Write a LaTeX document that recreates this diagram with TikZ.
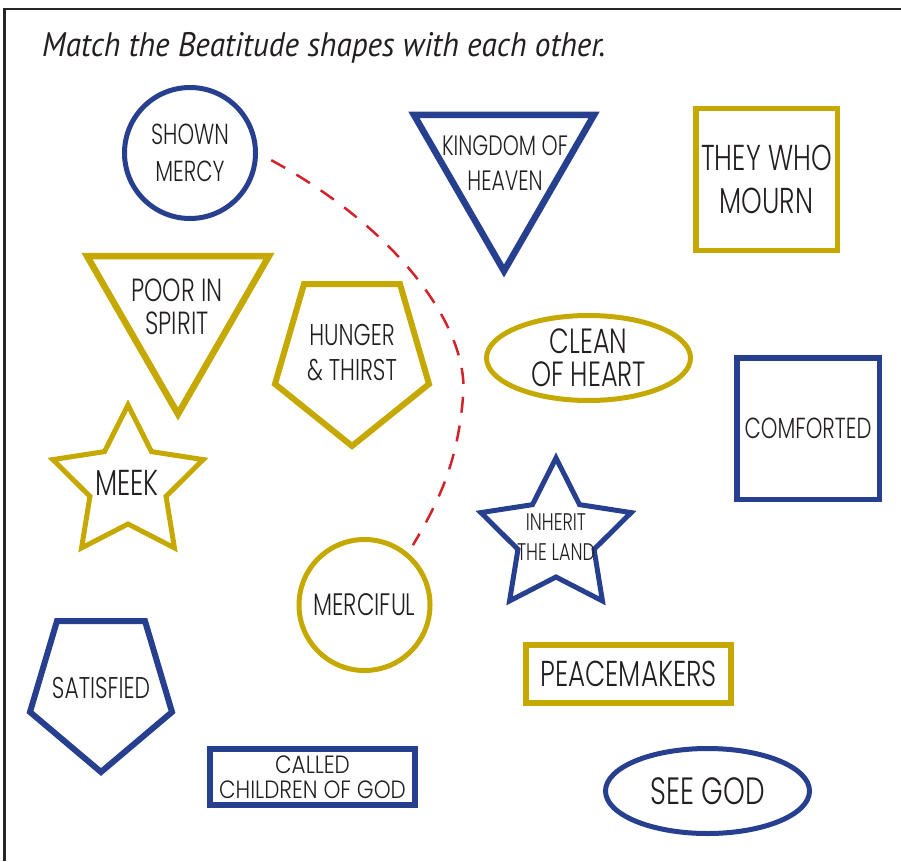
\documentclass[tikz,border=0pt]{standalone}
\usepackage{fontspec}
\usetikzlibrary{shapes.geometric}
\newfontfamily\labelfont{Poppins}[UprightFont=* Light, FakeStretch=0.73]
\newfontfamily\titlefont{PT Sans}[FakeStretch=0.92]
\definecolor{beatblue}{HTML}{273F8F}
\definecolor{beatgold}{HTML}{C5A900}
\definecolor{dashred}{HTML}{D2232A}
\definecolor{inkgray}{HTML}{231F20}
\tikzset{
  blueline/.style={draw=beatblue, line width=#1},
  blueline/.default=5.5pt,
  goldline/.style={draw=beatgold, line width=#1},
  goldline/.default=5.5pt,
  tag/.style 2 args={text=inkgray, inner sep=0pt, align=center,
    font=\labelfont\fontsize{#1}{#2}\selectfont},
  matchline/.style={draw=dashred, line width=2.5pt, dash pattern=on 16pt off 13pt,
    shorten <=15pt, shorten >=9pt}
}
\begin{document}
\begin{tikzpicture}[x=1pt, y=-1pt]
    \useasboundingbox (0,0) rectangle (901,861);
    % frame
    \draw[black!85, line width=2.7pt] (901,9) -- (4.5,9) -- (4.5,861);
    \node[anchor=base west, inner sep=0pt, text=inkgray,
        font=\titlefont\itshape\fontsize{34}{40}\selectfont] (title) at (42,57)
        {Match the Beatitude shapes with each other.};
    % circles, boxes and ellipses
    \node[blueline=5pt, circle, minimum size=131pt, tag={29}{37}] (mercy) at (190,153) {SHOWN\\MERCY};
    \node[goldline=5pt, circle, minimum size=131pt, tag={31}{36}] (merciful) at (364.5,605) {MERCIFUL};
    \node[goldline, rectangle, minimum width=141.5pt, minimum height=141.5pt, tag={36}{43}] (mourn) at (766.5,179.5) {THEY WHO\\MOURN};
    \node[blueline, rectangle, minimum width=142.5pt, minimum height=141.5pt, tag={29}{36}] (comforted) at (808,428.5) {COMFORTED};
    \node[goldline=6pt, rectangle, minimum width=205pt, minimum height=58pt, tag={36}{40}] (peacemakers) at (628.5,674) {PEACEMAKERS};
    \node[blueline=6pt, rectangle, minimum width=205pt, minimum height=56pt, tag={25}{25},
        font=\labelfont\addfontfeature{FakeStretch=0.86}\fontsize{25}{25}\selectfont] (children) at (312.5,777) {CALLED\\CHILDREN OF GOD};
    \node[goldline=5pt, ellipse, minimum width=204pt, minimum height=85pt, tag={35}{33}] (clean) at (588.5,358) {CLEAN\\OF HEART};
    \node[blueline=5pt, ellipse, minimum width=204pt, minimum height=85pt, tag={38}{40}] (seegod) at (707.5,791) {SEE GOD};
    % triangles
    \draw[blueline=6.5pt] (414,115) -- (594,115) -- (504,271) -- cycle;
    \node[tag={28}{35}] (heaven) at (505,163.5) {KINGDOM OF\\HEAVEN};
    \draw[goldline=6.5pt] (87,256) -- (269,256) -- (178,414) -- cycle;
    \node[tag={32}{33}] (poor) at (177,306.5) {POOR IN\\SPIRIT};
    % pentagons
    \draw[goldline=6pt] (304,284) -- (400,284) -- (429,384) -- (352,446) -- (275,384) -- cycle;
    \node[tag={30}{35}] (hunger) at (352,352.5) {HUNGER\\\& THIRST};
    \draw[blueline=6pt] (57,621) -- (145,621) -- (172,712) -- (101,772) -- (30,712) -- cycle;
    \node[tag={30}{35}] (satisfied) at (101,688) {SATISFIED};
    % stars
    \begin{scope}[shift={(128,484)}]
        \draw[goldline=5pt] (270:79) -- (306:40) -- (342:79) -- (18:40) -- (54:79) -- (90:40)
            -- (126:79) -- (162:40) -- (198:79) -- (234:40) -- cycle;
    \end{scope}
    \node[tag={36}{36}] (meek) at (127,483) {MEEK};
    \begin{scope}[shift={(556,537)}]
        \draw[blueline=5pt] (270:79) -- (306:40) -- (342:79) -- (18:40) -- (54:79) -- (90:40)
            -- (126:79) -- (162:40) -- (198:79) -- (234:40) -- cycle;
    \end{scope}
    \node[tag={24}{30}] (inherit) at (556,537) {INHERIT\\THE LAND};
    % the match already made
    \draw[matchline] (mercy.east) .. controls (400,230) and (470,330) .. (463,397)
        .. controls (458,460) and (440,500) .. (merciful.50);
\end{tikzpicture}
\end{document}
